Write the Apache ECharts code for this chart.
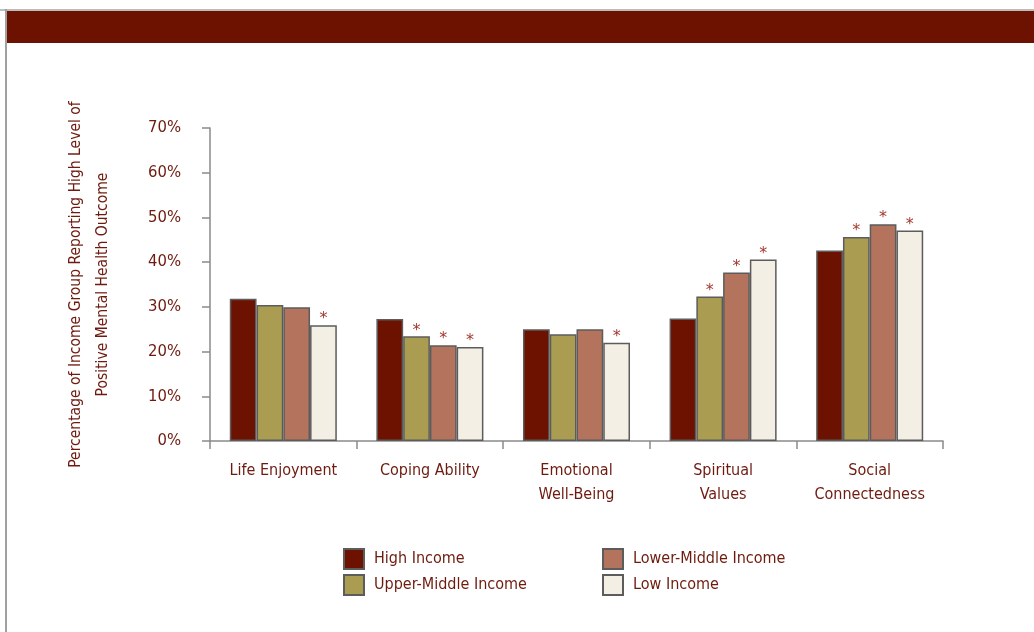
<!DOCTYPE html>
<html>
<head>
<meta charset="utf-8">
<script src="https://cdn.jsdelivr.net/npm/echarts@6/dist/echarts.min.js"></script>
<style>
html,body{margin:0;padding:0;background:#fff;}
#chart{width:1034px;height:632px;}
</style>
</head>
<body>
<div id="chart"></div>
<script>
var categories = ['Life Enjoyment', 'Coping Ability', 'Emotional\nWell-Being', 'Spiritual\nValues', 'Social\nConnectedness'];
var seriesNames = ['High Income', 'Upper-Middle Income', 'Lower-Middle Income', 'Low Income'];
var highIncome = [31.8, 27.3, 25.0, 27.4, 42.6];
var upperMiddleIncome = [30.4, 23.4, 23.9, 32.3, 45.6];
var lowerMiddleIncome = [29.9, 21.4, 25.0, 37.7, 48.5];
var lowIncome = [25.9, 21.0, 22.0, 40.6, 47.1];
// significance markers (asterisks) per series
var highFlags = [false, false, false, false, false];
var upperMiddleFlags = [false, true, false, true, true];
var lowerMiddleFlags = [false, true, false, true, true];
var lowFlags = [true, true, true, true, true];
var yTicks = [0, 10, 20, 30, 40, 50, 60, 70];

var FONT = '"DejaVu Sans Condensed", "DejaVu Sans", sans-serif';
var TEXT = '#6e1a0e';
var colors = ['#6d1200', '#aa9c50', '#b3735c', '#f4efe4'];
var allValues = [highIncome, upperMiddleIncome, lowerMiddleIncome, lowIncome];
var allFlags = [highFlags, upperMiddleFlags, lowerMiddleFlags, lowFlags];

function makeData(vals, flags) {
  return vals.map(function (v, i) {
    return flags[i] ? { value: v, label: { show: true } } : { value: v };
  });
}

var series = seriesNames.map(function (name, k) {
  return {
    name: name,
    type: 'bar',
    barGap: '0%',
    barCategoryGap: '27%',
    itemStyle: { color: colors[k], borderColor: '#5c5c5c', borderWidth: 1.5 },
    label: {
      show: false,
      position: 'top',
      formatter: '*',
      distance: -2,
      color: '#a3392f',
      fontSize: 16,
      fontFamily: 'DejaVu Sans'
    },
    emphasis: { disabled: true },
    data: makeData(allValues[k], allFlags[k])
  };
});

var legendText = { color: TEXT, fontSize: 16, fontFamily: FONT, padding: [0, 0, 0, 5] };

var chart = echarts.init(document.getElementById('chart'), null, { renderer: 'canvas' });
chart.setOption({
  animation: false,
  backgroundColor: '#fff',
  graphic: [
    { type: 'rect', shape: { x: 0, y: 9, width: 1034, height: 2 }, style: { fill: '#bdbdbd' } },
    { type: 'rect', shape: { x: 5, y: 9, width: 2, height: 623 }, style: { fill: '#a0a0a0' } },
    { type: 'rect', shape: { x: 7, y: 11, width: 1027, height: 32 }, style: { fill: '#6d1200' } }
  ],
  grid: { left: 210, right: 91, top: 128, bottom: 191 },
  legend: [
    {
      data: ['High Income', 'Upper-Middle Income'],
      orient: 'vertical',
      left: 343, top: 548, padding: 0,
      itemWidth: 20, itemHeight: 20, itemGap: 4,
      icon: 'rect',
      selectedMode: false,
      textStyle: legendText
    },
    {
      data: ['Lower-Middle Income', 'Low Income'],
      orient: 'vertical',
      left: 602, top: 548, padding: 0,
      itemWidth: 20, itemHeight: 20, itemGap: 4,
      icon: 'rect',
      selectedMode: false,
      textStyle: legendText
    }
  ],
  xAxis: {
    type: 'category',
    data: categories,
    axisLine: { lineStyle: { color: '#8a8a8a', width: 1.5 } },
    axisTick: { show: true, length: 8, lineStyle: { color: '#8a8a8a', width: 1.5 } },
    axisLabel: { color: TEXT, fontSize: 16, fontFamily: FONT, margin: 18, lineHeight: 24, interval: 0 }
  },
  yAxis: {
    type: 'value',
    min: yTicks[0],
    max: yTicks[yTicks.length - 1],
    interval: 10,
    name: 'Percentage of Income Group Reporting High Level of\nPositive Mental Health Outcome',
    nameLocation: 'middle',
    nameGap: 94,
    nameTextStyle: { color: TEXT, fontSize: 15.5, fontFamily: FONT, lineHeight: 27 },
    axisLine: { show: true, lineStyle: { color: '#8a8a8a', width: 1.5 } },
    axisTick: { show: true, length: 8, lineStyle: { color: '#8a8a8a', width: 1.5 } },
    splitLine: { show: false },
    axisLabel: { color: TEXT, fontSize: 16.5, fontFamily: FONT, margin: 29, formatter: '{value}%' }
  },
  series: series
});
</script>
</body>
</html>
